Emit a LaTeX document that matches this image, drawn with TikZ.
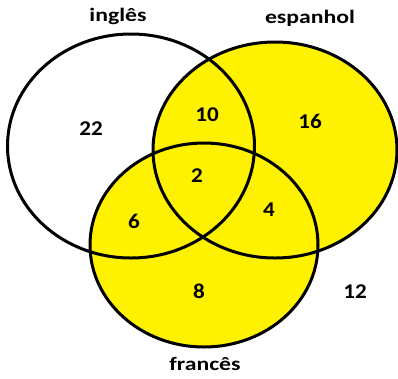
\documentclass[tikz,border=0pt]{standalone}
\usepackage{fontspec}
\setmainfont{Carlito}
\newfontfamily\labfont[FakeStretch=1.25]{Carlito}
\newfontfamily\numfont[FakeStretch=1.1]{Carlito}
\usetikzlibrary{shapes.geometric}
\definecolor{vennyellow}{RGB}{255,242,0}
\begin{document}
\begin{tikzpicture}[x=1pt,y=-1pt,
  setshape/.style={ellipse,draw=black,line width=3pt,inner sep=0pt,outer sep=0pt},
  setlabel/.style={font=\labfont\bfseries\fontsize{19}{19}\selectfont,inner sep=0pt},
  count/.style={font=\numfont\bfseries\fontsize{21}{21}\selectfont,inner sep=0pt}]
\useasboundingbox (0,0) rectangle (398,378);
\fill[white] (0,0) rectangle (398,378);
% fills
\node[setshape,draw=none,fill=vennyellow,minimum width=244pt,minimum height=216pt] (espf) at (275,150) {};
\node[setshape,draw=none,fill=vennyellow,minimum width=228pt,minimum height=204pt] (fraf) at (204,245) {};
% outlines
\node[setshape,minimum width=247pt,minimum height=224pt] (ing) at (131,146) {};
\node[setshape,minimum width=244pt,minimum height=216pt] (esp) at (275,150) {};
\node[setshape,minimum width=228pt,minimum height=204pt] (fra) at (204,245) {};
% labels
\node[setlabel] (ingl) at (118,16) {inglês};
\node[setlabel] (espl) at (310,18) {espanhol};
\node[setlabel] (fral) at (205,364) {francês};
% counts
\node[count] (n22) at (91,129) {22};
\node[count] (n10) at (207,115) {10};
\node[count] (n16) at (310,121) {16};
\node[count] (n2) at (197,176) {2};
\node[count] (n6) at (134,221) {6};
\node[count] (n4) at (269,210) {4};
\node[count] (n8) at (199,291) {8};
\node[count] (n12) at (355,292) {12};
\end{tikzpicture}
\end{document}
